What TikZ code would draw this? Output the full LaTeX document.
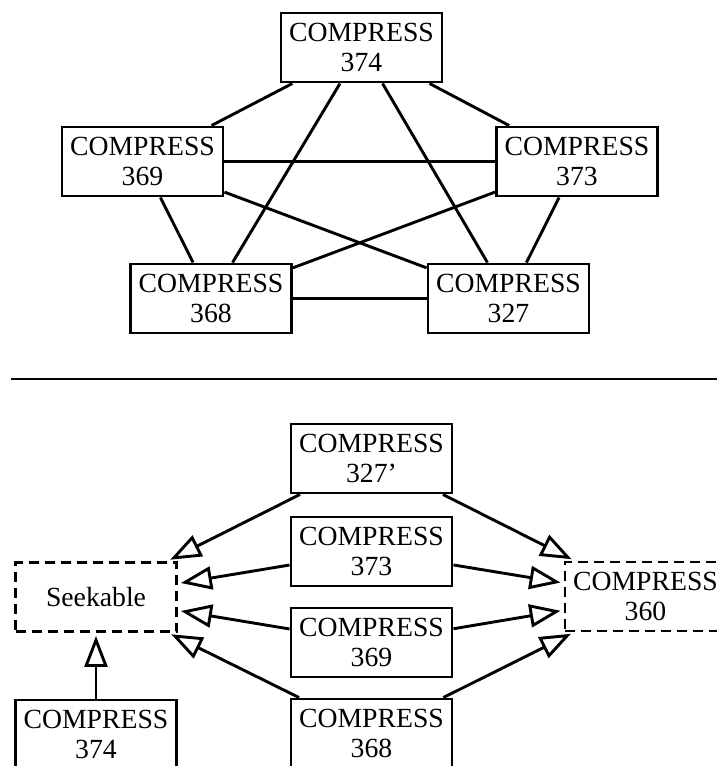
\documentclass[tikz,border=0pt]{standalone}
\usepackage{fontspec}
\setmainfont{Liberation Serif}
\usetikzlibrary{arrows.meta}
\begin{document}
\begin{tikzpicture}[x=1pt,y=-1pt,
  box/.style={draw, line width=2.9pt, minimum width=161pt, minimum height=69pt,
    inner sep=0pt, align=center, font=\fontsize{27.7}{30}\selectfont},
  iface/.style={box, dash pattern=on 10pt off 6pt},
  link/.style={line width=2.9pt},
  realize/.style={line width=2.9pt, shorten >=3pt,
    -{Triangle[open, length=31pt, width=23pt, fill=white]}}
]
\useasboundingbox (0,0) rectangle (717,766);

% upper part: every compressor linked with every other
\node[box] (t374) at (361.5,47.5)  {COMPRESS\\374};
\node[box] (t369) at (142.5,161.5) {COMPRESS\\369};
\node[box] (t373) at (577,161.5)   {COMPRESS\\373};
\node[box] (t368) at (211,298.5)   {COMPRESS\\368};
\node[box] (t327) at (508.5,298.5) {COMPRESS\\327};

\draw[link] (t374) -- (t369);
\draw[link] (t374) -- (t373);
\draw[link] (t374) -- (t368);
\draw[link] (t374) -- (t327);
\draw[link] (t369) -- (t373);
\draw[link] (t369) -- (t368);
\draw[link] (t369) -- (t327);
\draw[link] (t373) -- (t368);
\draw[link] (t373) -- (t327);
\draw[link] (t368) -- (t327);

% separating rule
\coordinate (ruleL) at (11,379);
\coordinate (ruleR) at (717,379);
\draw[line width=2.9pt] (ruleL) -- (ruleR);

% lower part: realisation of the two interfaces
\node[box] (b327) at (371.5,458.5) {COMPRESS\\327’};
\node[box] (b373) at (371.5,551.5) {COMPRESS\\373};
\node[box] (b369) at (371.5,642.5) {COMPRESS\\369};
\node[box] (b368) at (371.5,733.5) {COMPRESS\\368};
\node[iface] (seek) at (96,597)    {Seekable};
\node[iface] (c360) at (645.5,596.5) {COMPRESS\\360};
\node[box] (b374) at (96,734.5)    {COMPRESS\\374};

\foreach \n in {b327,b373,b369,b368} {
  \draw[realize] (\n) -- (seek);
  \draw[realize] (\n) -- (c360);
}
\draw[realize] (b374) -- (seek);
\end{tikzpicture}
\end{document}
